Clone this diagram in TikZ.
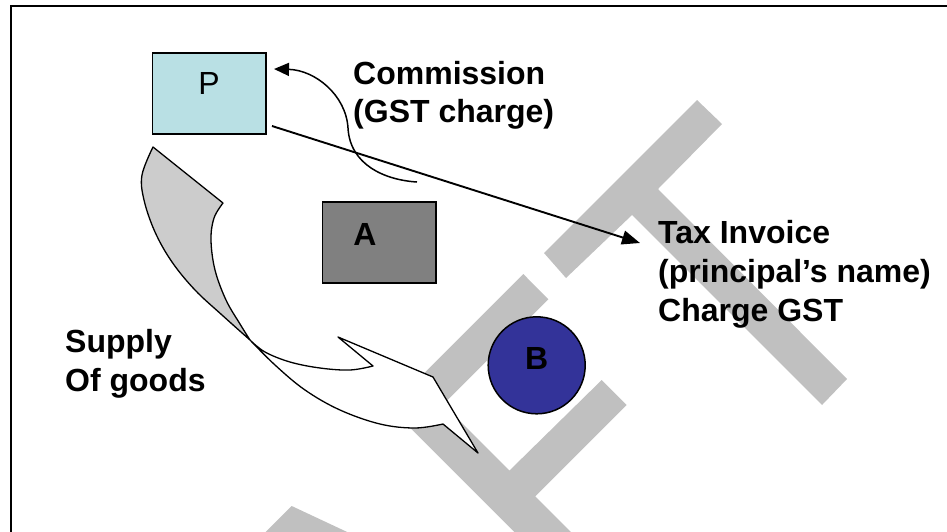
\documentclass[tikz,border=0pt]{standalone}
\usepackage{fontspec}
\setmainfont{Liberation Sans}
\usetikzlibrary{arrows.meta}
\definecolor{pcyan}{RGB}{185,224,228}
\definecolor{agray}{RGB}{128,128,128}
\definecolor{bblue}{RGB}{51,51,153}
\definecolor{wmgray}{RGB}{192,192,192}
\definecolor{backgray}{RGB}{204,204,204}
\tikzset{
  box/.style={draw=black, line width=1.5pt, minimum width=113.5pt, minimum height=81pt, inner sep=0pt},
  txt/.style={inner sep=0pt, font=\fontsize{32}{38.8}\selectfont},
  boldtxt/.style={inner sep=0pt, font=\bfseries\fontsize{32}{38.8}\selectfont},
  lbl/.style={boldtxt, anchor=base west},
  conn/.style={draw=black, line width=1.9pt, -{Triangle[length=18pt,width=14pt]}},
  outline/.style={draw=black, line width=1.3pt, line join=round},
}
\begin{document}
\begin{tikzpicture}[x=1pt,y=-1pt]
\useasboundingbox (0,0) rectangle (947,531);
\begin{scope}
\clip (0,0) rectangle (947,531);
% watermark letters (rotated "A", "F", "T")
\fill[wmgray] (246.4,551.3) -- (291.7,506) -- (382.2,548.4) -- (300,600) -- cycle;
\fill[wmgray] (389.8,407.5) -- (523.3,274) -- (548.3,299.3) -- (443.3,404.3)
  -- (509.5,470.5) -- (601.7,380) -- (626.7,405) -- (535.3,496.3)
  -- (700,661) -- (640,657.7) -- cycle;
\fill[wmgray] (697,100) -- (722,124) -- (658,189) -- (847,379) -- (822,405)
  -- (632,215) -- (566,278) -- (544,253) -- cycle;
% page frame
\draw[line width=2pt, line join=miter] (11,545) -- (11,6) -- (960,6);
\end{scope}

% curved "supply of goods" arrow: back face, then front face
\path[outline, fill=backgray] (153,147) -- (223,203)
  -- plot[smooth, tension=0.6] coordinates {(223,203) (214,218) (211,240) (215,270) (226,300) (240,324) (250,340)}
  -- plot[smooth, tension=0.6] coordinates {(250,340) (222,315) (195,290) (172,262) (155,232) (144,200) (142,175) (153,147)}
  -- cycle;
\path[outline, fill=white]
  plot[smooth, tension=0.6] coordinates {(250,340) (265,352) (290,362) (320,368) (350,370) (373,366)}
  -- (338,337) -- (433,377) -- (478,453) -- (443,424)
  -- plot[smooth, tension=0.6] coordinates {(443,424) (415,428) (380,424) (340,410) (305,390) (275,365) (250,340)}
  -- cycle;

% parties
\node[box, fill=pcyan] (P) at (209,93.5) {};
\node[txt, anchor=base] (Plbl) at (209,94) {P};
\node[box, fill=agray] (A) at (379,242.5) {};
\node[boldtxt, anchor=base] (Albl) at (365,245) {A};
\node[circle, draw=black, line width=1.5pt, fill=bblue, minimum size=97pt, inner sep=0pt] (B) at (536.7,365.3) {};
\node[boldtxt, anchor=base] (Blbl) at (536.7,369.5) {B};

% labels
\node[lbl] (comm) at (353,84) {\vtop{\hbox{Commission}\hbox{(GST charge)}}};
\node[lbl] (tax) at (658,243.5) {\vtop{\hbox{Tax Invoice}\hbox{(principal’s name)}\hbox{Charge GST}}};
\node[lbl] (supply) at (65,352.5) {\vtop{\hbox{Supply}\hbox{Of goods}}};

% connectors
\coordinate (pOut) at (272,126);
\coordinate (taxIn) at (640,243);
\coordinate (commFrom) at (417,182);
\coordinate (commMid) at (348,128);
\coordinate (pIn) at (274,69);
\draw[conn] (pOut) -- (taxIn);
\draw[conn, line width=1.5pt, -{Triangle[length=15pt,width=13pt]}]
  (commFrom) .. controls (385,180) and (350,165) .. (commMid)
  .. controls (346,95) and (315,70) .. (pIn);
\end{tikzpicture}
\end{document}
